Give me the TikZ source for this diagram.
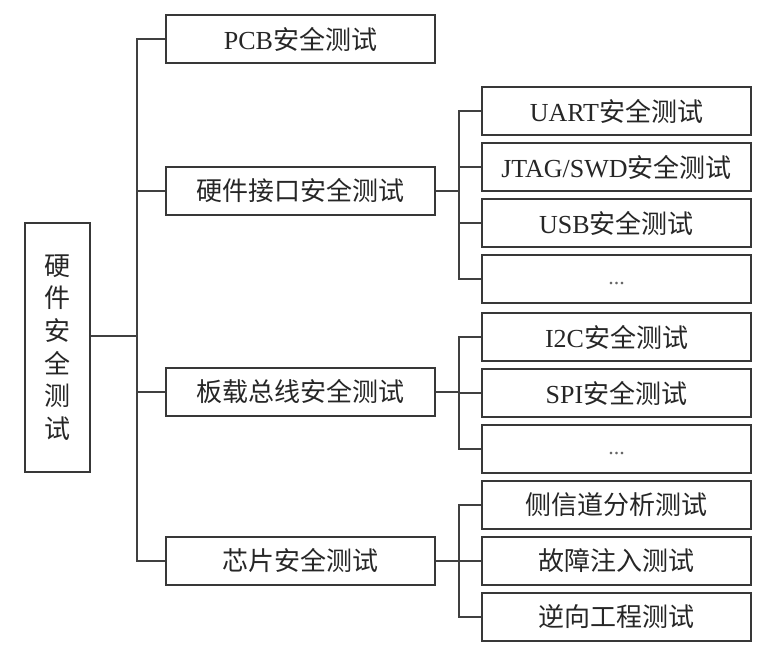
\documentclass[tikz,border=0pt]{standalone}
\usepackage{fontspec}
\setmainfont{Liberation Serif}
\newfontfamily\cjk{Noto Sans CJK SC}
\usepackage{tikz}
\usetikzlibrary{positioning}

\begin{document}
\begin{tikzpicture}[x=1pt,y=-1pt,
	box/.style={draw=black!78,line width=1.5pt,minimum width=269pt,minimum height=48pt,inner sep=0pt,
		text=black!85,font=\fontsize{26}{30}\selectfont},
	dots/.style={box,text=black!60,font=\fontsize{22}{26}\selectfont},
	link/.style={draw=black!75,line width=1.5pt}]
	\useasboundingbox (0,0) rectangle (761,647);
	\node[box,minimum width=65pt,minimum height=249pt,align=center,font=\fontsize{26}{32.6}\selectfont\cjk] (root) at (57.5,347.5) {硬\\件\\安\\全\\测\\试};
	\coordinate (rj) at (137,336);
	% first level
	\node[box] (pcb) at (300.5,39) {PCB{\cjk 安全测试}};
	\node[box] (hif) at (300.5,191) {\cjk 硬件接口安全测试};
	\node[box] (bus) at (300.5,392) {\cjk 板载总线安全测试};
	\node[box] (chip) at (300.5,561) {\cjk 芯片安全测试};
	% second level
	\node[box] (uart) at (616.5,111) {UART{\cjk 安全测试}};
	\node[box] (jtag) at (616.5,167) {JTAG/SWD{\cjk 安全测试}};
	\node[box] (usb) at (616.5,223) {USB{\cjk 安全测试}};
	\node[dots] (dotsA) at (616.5,279) {\strut...};
	\node[box] (itc) at (616.5,337) {I2C{\cjk 安全测试}};
	\node[box] (spi) at (616.5,393) {SPI{\cjk 安全测试}};
	\node[dots] (dotsB) at (616.5,449) {\strut...};
	\node[box] (side) at (616.5,505) {\cjk 侧信道分析测试};
	\node[box] (fault) at (616.5,561) {\cjk 故障注入测试};
	\node[box] (rev) at (616.5,617) {\cjk 逆向工程测试};
	% connectors
	\foreach \n in {pcb,hif,bus,chip}
		\draw[link] (root.east |- rj) -- (rj) |- (\n.west);
	\foreach \n in {uart,jtag,usb,dotsA}
		\draw[link] (hif.east) -- ++(23,0) |- (\n.west);
	\foreach \n in {itc,spi,dotsB}
		\draw[link] (bus.east) -- ++(23,0) |- (\n.west);
	\foreach \n in {side,fault,rev}
		\draw[link] (chip.east) -- ++(23,0) |- (\n.west);
\end{tikzpicture}
\end{document}
